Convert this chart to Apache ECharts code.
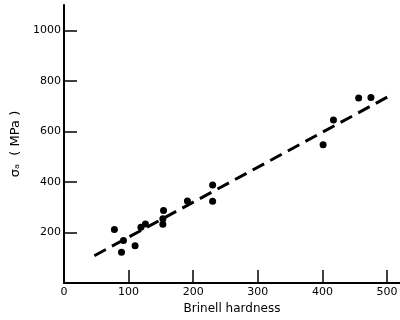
<!DOCTYPE html>
<html>
<head>
<meta charset="utf-8">
<script src="https://cdn.jsdelivr.net/npm/echarts@6/dist/echarts.min.js"></script>
<style>
  html, body { margin: 0; padding: 0; background: #fff; }
  #main { width: 400px; height: 320px; }
</style>
</head>
<body>
<div id="main"></div>
<script>
// data
var hardness = [78, 89, 92, 110, 119, 126, 153, 153, 154, 191, 230, 230, 401, 417, 456, 475];
var strength = [212, 122, 168, 147, 221, 233, 232, 254, 287, 324, 323, 388, 547, 645, 732, 734];

// dashed fit line end points
var fitX = [47, 505];
var fitY = [108, 742];

var xLabels = [0, 100, 200, 300, 400, 500];
var xTicks = [100, 200, 300, 400, 500];
var yLabels = [200, 400, 600, 800, 1000];

var myChart = echarts.init(document.getElementById('main'));
var font = 'DejaVu Sans';
var plain = function (v) { return String(v); };

myChart.setOption({
  animation: false,
  grid: { left: 64, right: 0, top: 5, bottom: 37, containLabel: false, outerBoundsMode: 'none' },
  xAxis: {
    type: 'value',
    min: 0,
    max: 520,
    name: 'Brinell hardness',
    nameLocation: 'middle',
    nameGap: 20,
    nameTextStyle: { color: '#000', fontFamily: font, fontSize: 12 },
    axisLine: { onZero: false, lineStyle: { color: '#000', width: 2 } },
    axisTick: { inside: true, length: 13, customValues: xTicks, lineStyle: { color: '#000', width: 1.5 } },
    axisLabel: { customValues: xLabels, formatter: plain, color: '#000', fontFamily: font, fontSize: 11, margin: 4 },
    splitLine: { show: false }
  },
  yAxis: {
    type: 'value',
    min: 0,
    max: 1100,
    name: 'σₐ  ( MPa )',
    nameLocation: 'middle',
    nameGap: 36,
    nameTextStyle: { color: '#000', fontFamily: font, fontSize: 13 },
    axisLine: { show: true, onZero: false, lineStyle: { color: '#000', width: 2 } },
    axisTick: { show: true, inside: true, length: 13, customValues: yLabels, lineStyle: { color: '#000', width: 1.5 } },
    axisLabel: { customValues: yLabels, formatter: plain, color: '#000', fontFamily: font, fontSize: 11, margin: 3 },
    splitLine: { show: false }
  },
  series: [
    {
      type: 'line',
      data: fitX.map(function (x, i) { return [x, fitY[i]]; }),
      showSymbol: false,
      lineStyle: { color: '#000', width: 3, type: [13, 7] },
      z: 2
    },
    {
      type: 'scatter',
      data: hardness.map(function (x, i) { return [x, strength[i]]; }),
      symbolSize: 7,
      itemStyle: { color: '#000', opacity: 1 },
      z: 3
    }
  ]
});
</script>
</body>
</html>
